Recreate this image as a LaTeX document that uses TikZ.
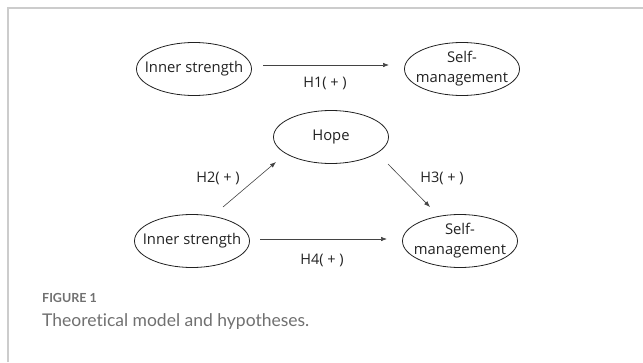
\documentclass[tikz,border=0pt]{standalone}
\usepackage{fontspec}
\setmainfont{Open Sans}
\newfontfamily\capfont[RawFeature=-liga]{Lato}
\usetikzlibrary{shapes.geometric,arrows.meta}
\definecolor{framegray}{HTML}{CCCCCC}
\definecolor{capgray}{HTML}{707070}
\definecolor{inkgray}{HTML}{222222}
\begin{document}
\begin{tikzpicture}[x=1pt,y=-1pt,
  var/.style={ellipse,draw=inkgray,line width=0.8pt,minimum width=115pt,minimum height=53pt,inner sep=0pt,
    label={[align=center,font=\fontsize{14.8}{20}\selectfont,text=inkgray,inner sep=0pt]center:#1}},
  path/.style={draw=inkgray!85,line width=0.6pt,-{Latex[length=6pt,width=4.5pt]}},
  lab/.style={font=\fontsize{14.5}{16}\selectfont,text=inkgray}]
\useasboundingbox (0,0) rectangle (643,362);
\draw[framegray,line width=1.5pt] (8,362) -- (8,8) -- (643,8);
% top model
\node[var={Inner strength}] (is1) at (194,69) {};
\node[var={Self-\\management}] (sm1) at (462,69) {};
\coordinate (a1s) at (263,65);
\coordinate (a1e) at (389,65);
\draw[path] (a1s) -- (a1e);
\node[lab] (h1) at (325,83) {H1( + )};
% bottom model
\node[var={Hope}] (hope) at (331,137) {};
\node[var={Inner strength}] (is2) at (192,241) {};
\node[var={Self-\\management}] (sm2) at (460,241) {};
\coordinate (a2s) at (223,207);
\coordinate (a2e) at (276,162);
\coordinate (a3s) at (388,164);
\coordinate (a3e) at (430,207);
\coordinate (a4s) at (260,239);
\coordinate (a4e) at (387,239);
\draw[path] (a2s) -- (a2e);
\draw[path] (a3s) -- (a3e);
\draw[path] (a4s) -- (a4e);
\node[lab] (h2) at (218,178) {H2( + )};
\node[lab] (h3) at (442,178) {H3( + )};
\node[lab] (h4) at (322,260) {H4( + )};
% caption
\node[anchor=west,inner sep=0pt,text=capgray,font=\capfont\bfseries\fontsize{12.5}{14}\selectfont] (fig) at (42,298) {FIGURE 1};
\node[anchor=west,inner sep=0pt,text=capgray,font=\capfont\fontsize{17.5}{20}\selectfont] (cap) at (42,322) {Theoretical model and hypotheses.};
\end{tikzpicture}
\end{document}
